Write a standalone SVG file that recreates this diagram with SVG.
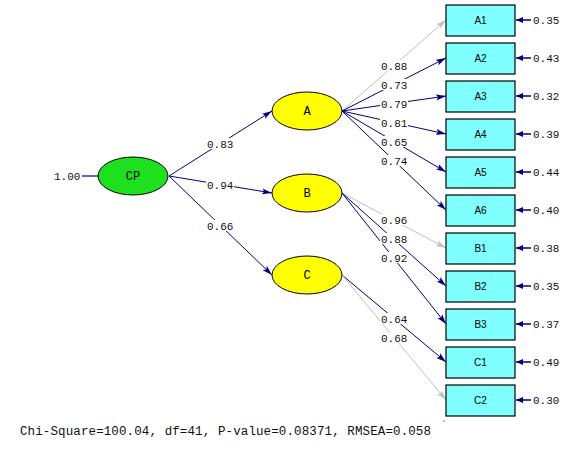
<svg xmlns="http://www.w3.org/2000/svg" width="572" height="450" viewBox="0 0 572 450">
<style>
.p{stroke:#000080;stroke-width:1;fill:none;marker-end:url(#an)}
.g{stroke:#c0c0c0;stroke-width:1;fill:none;marker-end:url(#ag)}
.e{stroke:#000080;stroke-width:1.5;fill:none;marker-end:url(#ae)}
.n{font-family:"Liberation Mono","Courier New",monospace;font-size:11px;fill:#111}
.lb{fill:#fff}
.box{fill:#80ffff;stroke:#000;stroke-width:1.2}
.bt{font-family:"Liberation Sans",Arial,sans-serif;font-size:10px;fill:#000;text-anchor:middle}
.lat{stroke:#000;stroke-width:1}
.lt{font-family:"Liberation Mono","Courier New",monospace;font-size:12px;fill:#000;text-anchor:middle}
.chi{font-family:"Liberation Mono","Courier New",monospace;font-size:12.5px;fill:#111}
</style>
<defs>
<marker id="an" markerUnits="userSpaceOnUse" markerWidth="10" markerHeight="7" refX="10" refY="3.5" orient="auto"><path d="M0,0.5 L10,3.5 L0,6.5 L2,3.5 z" fill="#000080"/></marker>
<marker id="ag" markerUnits="userSpaceOnUse" markerWidth="10" markerHeight="7" refX="10" refY="3.5" orient="auto"><path d="M0,0.5 L10,3.5 L0,6.5 L2,3.5 z" fill="#c0c0c0"/></marker>
<marker id="ae" markerUnits="userSpaceOnUse" markerWidth="7" markerHeight="6" refX="7" refY="3" orient="auto"><path d="M0,0 L7,3 L0,6 z" fill="#000080"/></marker>
</defs>
<rect width="572" height="450" fill="#fff"/>
<g id="connectors">
<line x1="82" y1="176" x2="98" y2="176" stroke="#000080" stroke-width="1.2"/>
<line class="p" x1="169" y1="176" x2="272" y2="111"/>
<line class="p" x1="169" y1="176" x2="272" y2="193"/>
<line class="p" x1="169" y1="176" x2="272" y2="275"/>
<line class="g" x1="342" y1="111" x2="446" y2="20"/>
<line class="p" x1="342" y1="111" x2="446" y2="58"/>
<line class="p" x1="342" y1="111" x2="446" y2="96"/>
<line class="p" x1="342" y1="111" x2="446" y2="134"/>
<line class="p" x1="342" y1="111" x2="446" y2="172"/>
<line class="p" x1="342" y1="111" x2="446" y2="210"/>
<line class="g" x1="342" y1="193" x2="446" y2="248"/>
<line class="p" x1="342" y1="193" x2="446" y2="286"/>
<line class="p" x1="342" y1="193" x2="446" y2="324"/>
<line class="p" x1="342" y1="275" x2="446" y2="362"/>
<line class="g" x1="342" y1="275" x2="446" y2="400"/>
<g id="errors">
<line class="e" x1="531" y1="20" x2="516" y2="20"/>
<line class="e" x1="531" y1="58" x2="516" y2="58"/>
<line class="e" x1="531" y1="96" x2="516" y2="96"/>
<line class="e" x1="531" y1="134" x2="516" y2="134"/>
<line class="e" x1="531" y1="172" x2="516" y2="172"/>
<line class="e" x1="531" y1="210" x2="516" y2="210"/>
<line class="e" x1="531" y1="248" x2="516" y2="248"/>
<line class="e" x1="531" y1="286" x2="516" y2="286"/>
<line class="e" x1="531" y1="324" x2="516" y2="324"/>
<line class="e" x1="531" y1="362" x2="516" y2="362"/>
<line class="e" x1="531" y1="400" x2="516" y2="400"/>
</g>
<g id="path-labels">
<rect class="lb" x="206" y="138" width="28" height="11"/><text class="n" x="207" y="147.5">0.83</text>
<rect class="lb" x="206" y="179" width="28" height="11"/><text class="n" x="207" y="188.5">0.94</text>
<rect class="lb" x="206" y="220" width="28" height="11"/><text class="n" x="207" y="229.5">0.66</text>
<rect class="lb" x="380" y="60" width="28" height="11"/><text class="n" x="381" y="69.5">0.88</text>
<rect class="lb" x="380" y="79" width="28" height="11"/><text class="n" x="381" y="88.5">0.73</text>
<rect class="lb" x="380" y="98" width="28" height="11"/><text class="n" x="381" y="107.5">0.79</text>
<rect class="lb" x="380" y="117" width="28" height="11"/><text class="n" x="381" y="126.5">0.81</text>
<rect class="lb" x="380" y="136" width="28" height="11"/><text class="n" x="381" y="145.5">0.65</text>
<rect class="lb" x="380" y="155" width="28" height="11"/><text class="n" x="381" y="164.5">0.74</text>
<rect class="lb" x="380" y="214" width="28" height="11"/><text class="n" x="381" y="223.5">0.96</text>
<rect class="lb" x="380" y="233" width="28" height="11"/><text class="n" x="381" y="242.5">0.88</text>
<rect class="lb" x="380" y="252" width="28" height="11"/><text class="n" x="381" y="261.5">0.92</text>
<rect class="lb" x="380" y="313" width="28" height="11"/><text class="n" x="381" y="322.5">0.64</text>
<rect class="lb" x="380" y="332" width="28" height="11"/><text class="n" x="381" y="341.5">0.68</text>
</g>
<g id="error-labels">
<text class="n" x="533" y="24">0.35</text>
<text class="n" x="533" y="62">0.43</text>
<text class="n" x="533" y="100">0.32</text>
<text class="n" x="533" y="138">0.39</text>
<text class="n" x="533" y="176">0.44</text>
<text class="n" x="533" y="214">0.40</text>
<text class="n" x="533" y="252">0.38</text>
<text class="n" x="533" y="290">0.35</text>
<text class="n" x="533" y="328">0.37</text>
<text class="n" x="533" y="366">0.49</text>
<text class="n" x="533" y="404">0.30</text>
</g>
<text class="n" x="54" y="180">1.00</text>
</g>
<g id="CP"><ellipse class="lat" cx="133" cy="176" rx="35" ry="19" fill="#1ee01e"/><text class="lt" x="133" y="180">CP</text></g>
<g id="A"><ellipse class="lat" cx="307" cy="111" rx="35" ry="19" fill="#ffff00"/><text class="lt" x="307" y="115">A</text></g>
<g id="B"><ellipse class="lat" cx="307" cy="193" rx="35" ry="19" fill="#ffff00"/><text class="lt" x="307" y="197">B</text></g>
<g id="C"><ellipse class="lat" cx="307" cy="275" rx="35" ry="19" fill="#ffff00"/><text class="lt" x="307" y="279">C</text></g>
<g id="A1"><rect class="box" x="446" y="5" width="69" height="31"/><text class="bt" x="480.5" y="24">A1</text></g>
<g id="A2"><rect class="box" x="446" y="43" width="69" height="31"/><text class="bt" x="480.5" y="62">A2</text></g>
<g id="A3"><rect class="box" x="446" y="81" width="69" height="31"/><text class="bt" x="480.5" y="100">A3</text></g>
<g id="A4"><rect class="box" x="446" y="119" width="69" height="31"/><text class="bt" x="480.5" y="138">A4</text></g>
<g id="A5"><rect class="box" x="446" y="157" width="69" height="31"/><text class="bt" x="480.5" y="176">A5</text></g>
<g id="A6"><rect class="box" x="446" y="195" width="69" height="31"/><text class="bt" x="480.5" y="214">A6</text></g>
<g id="B1"><rect class="box" x="446" y="233" width="69" height="31"/><text class="bt" x="480.5" y="252">B1</text></g>
<g id="B2"><rect class="box" x="446" y="271" width="69" height="31"/><text class="bt" x="480.5" y="290">B2</text></g>
<g id="B3"><rect class="box" x="446" y="309" width="69" height="31"/><text class="bt" x="480.5" y="328">B3</text></g>
<g id="C1"><rect class="box" x="446" y="347" width="69" height="31"/><text class="bt" x="480.5" y="366">C1</text></g>
<g id="C2"><rect class="box" x="446" y="385" width="69" height="31"/><text class="bt" x="480.5" y="404">C2</text></g>
<text class="chi" x="20" y="435" textLength="411" lengthAdjust="spacing">Chi-Square=100.04, df=41, P-value=0.08371, RMSEA=0.058</text>
<rect x="443.5" y="420.5" width="1" height="1" fill="#000"/>
</svg>
